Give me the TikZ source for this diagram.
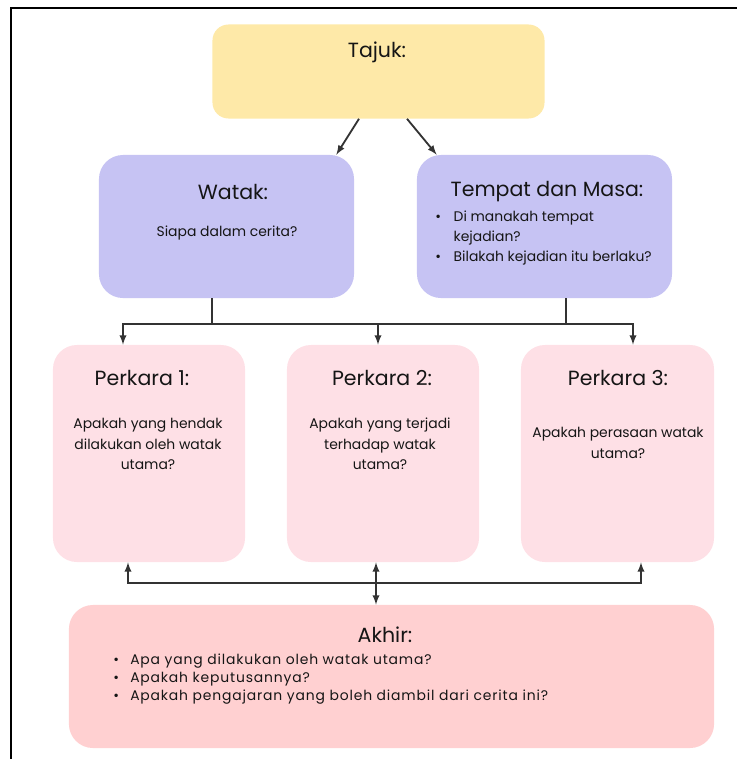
\documentclass[tikz,border=0pt]{standalone}
\usepackage{fontspec}
\setmainfont{Poppins}
\newfontfamily\akhirfont[LetterSpace=6]{Poppins}
\usetikzlibrary{calc}

\definecolor{kuning}{HTML}{FEE9A8}
\definecolor{ungu}{HTML}{C6C3F3}
\definecolor{merahjambu}{HTML}{FEE0E6}
\definecolor{merah}{HTML}{FFD0D1}
\definecolor{dakwat}{HTML}{151515}
\definecolor{garis}{HTML}{333333}

\tikzset{
  box/.style={rectangle, rounded corners=0.6cm, inner sep=0pt},
  ttl/.style={inner sep=0pt, text=dakwat, font=\fontsize{14.6}{16}\selectfont},
  txt/.style={inner sep=0pt, text=dakwat, align=center, font=\fontsize{9.9}{14.6}\selectfont},
  lst/.style={inner sep=0pt, text=dakwat, align=left, anchor=north west},
  line/.style={draw=garis, line width=1.3pt},
  arr/.style={line, -latex},
}

\begin{document}
\begin{tikzpicture}[x=0.025cm, y=-0.025cm]
  \useasboundingbox (0,0) rectangle (737,759);
  \draw[line width=1.5pt, black] (11,8) rectangle (800,800);

  % kotak
  \node[box, fill=kuning, minimum width=8.3cm, minimum height=2.35cm, rounded corners=0.4cm] (tajuk) at (378.5,71.5) {};
  \node[box, fill=ungu, minimum width=6.375cm, minimum height=3.575cm] (watak) at (226.5,226.5) {};
  \node[box, fill=ungu, minimum width=6.375cm, minimum height=3.575cm] (tempat) at (544.5,226.5) {};
  \node[box, fill=merahjambu, minimum width=4.8cm, minimum height=5.425cm] (p1) at (149,453.5) {};
  \node[box, fill=merahjambu, minimum width=4.8cm, minimum height=5.425cm] (p2) at (383,453.5) {};
  \node[box, fill=merahjambu, minimum width=4.825cm, minimum height=5.425cm] (p3) at (617.5,453.5) {};
  \node[box, fill=merah, minimum width=16.125cm, minimum height=3.575cm] (akhir) at (391.5,676.5) {};

  % teks
  \node[ttl] (tajukT) at (377,52) {Tajuk:};
  \node[ttl] (watakT) at (233,192) {Watak:};
  \node[txt] (watakX) at (227,233) {Siapa dalam cerita?};
  \node[ttl] (tempatT) at (547,192) {Tempat dan Masa:};
  \node[lst, font=\fontsize{9.9}{14.2}\selectfont] (tempatX) at (435,211)
    {\textbullet\hspace{9pt}Di manakah tempat\\\hphantom{\textbullet}\hspace{9pt}kejadian?\\\textbullet\hspace{9pt}Bilakah kejadian itu berlaku?};
  \node[ttl] (p1T) at (142,378) {Perkara 1:};
  \node[txt] (p1X) at (148,444) {Apakah yang hendak\\dilakukan oleh watak\\utama?};
  \node[ttl] (p2T) at (382,378) {Perkara 2:};
  \node[txt] (p2X) at (380,444) {Apakah yang terjadi\\terhadap watak\\utama?};
  \node[ttl] (p3T) at (618,378) {Perkara 3:};
  \node[txt] (p3X) at (618,443) {Apakah perasaan watak\\utama?};
  \node[ttl] (akhirT) at (385,635) {Akhir:};
  \node[lst, font=\akhirfont\fontsize{9.9}{12.6}\selectfont] (akhirX) at (113,654)
    {\textbullet\hspace{8pt}Apa yang dilakukan oleh watak utama?\\\textbullet\hspace{8pt}Apakah keputusannya?\\\textbullet\hspace{8pt}Apakah pengajaran yang boleh diambil dari cerita ini?};

  % penyambung
  \coordinate (bt) at (378,324);
  \coordinate (bb) at (376,583);
  \draw[arr] ($(tajuk.south)+(-19.5,0)$) -- ($(watak.north east)+(-18,0)$);
  \draw[arr] ($(tajuk.south)+(28.5,0)$) -- ($(tempat.north west)+(20,0)$);
  \draw[line] ($(watak.south)+(-14.5,0)$) -- ($(watak.south)+(-14.5,26)$);
  \draw[line] ($(tempat.south)+(21.5,0)$) -- ($(tempat.south)+(21.5,26)$);
  \draw[arr] (bt) -| ($(p1.north)+(-26,0)$);
  \draw[arr] (bt) -| ($(p3.north)+(15.5,0)$);
  \draw[arr] (bt) -- ($(p2.north)+(-5,0)$);
  \draw[arr] (bb) -| ($(p1.south)+(-21,0)$);
  \draw[arr] (bb) -| ($(p3.south)+(23.5,0)$);
  \draw[arr] (bb) -- ($(p2.south)+(-7,0)$);
  \draw[arr] (bb) -- ($(akhir.north)+(-15.5,0)$);
\end{tikzpicture}
\end{document}
